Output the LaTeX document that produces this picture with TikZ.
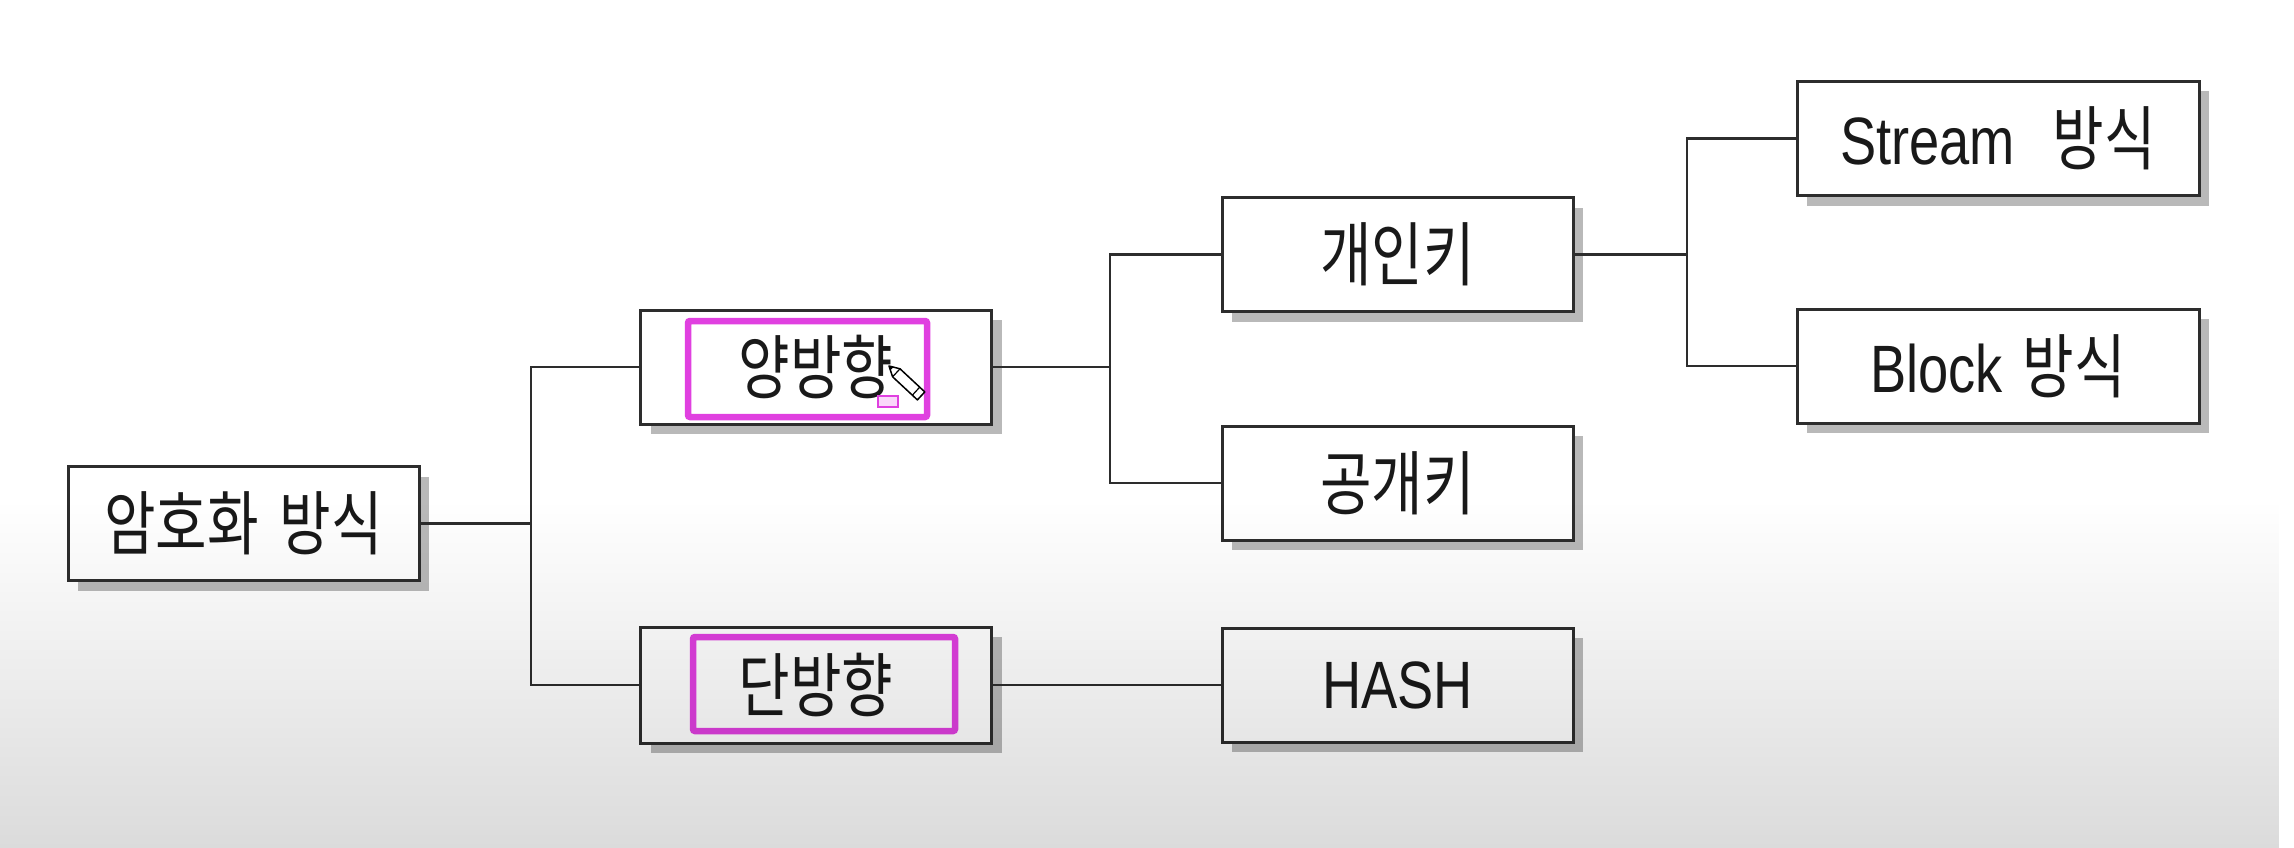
\documentclass[tikz,border=0pt]{standalone}
\usepackage{fontspec}
\setmainfont{Noto Sans CJK KR}[FakeStretch=0.80]
\newfontfamily\latfont{Liberation Sans}[FakeStretch=0.81]
\usetikzlibrary{shadows,fadings}
\definecolor{hlmag}{RGB}{224,64,224}
\definecolor{hlpink}{RGB}{250,215,250}
\definecolor{boxline}{RGB}{45,45,45}
\definecolor{shadowgray}{RGB}{185,185,185}
\newcommand{\lat}[1]{{\latfont\fontsize{67}{72}\selectfont #1}}
\begin{document}
\begin{tikzpicture}[x=1pt,y=-1pt,
  box/.style={draw=boxline, line width=3pt, fill=white, inner sep=0pt,
    minimum width=351pt, minimum height=114pt, text=black!90,
    font=\fontsize{70}{76}\selectfont,
    general shadow={fill=shadowgray, shadow xshift=10pt, shadow yshift=-10pt}},
  widebox/.style={box, minimum width=402pt},
  hl/.style={draw=hlmag, line width=6.5pt, rounded corners=2pt, inner sep=0pt},
  lbl/.style={text=black!90, font=\fontsize{70}{76}\selectfont, inner sep=0pt},
  conn/.style={draw=boxline, line width=2.2pt}]
\useasboundingbox (0,0) rectangle (2294,848);
\fill[white] (0,0) rectangle (2294,848);

% nodes
\node[box] (root)   at (243.5,523.5) {암호화\hspace{8pt} 방식};
\node[box] (two)    at (816,367)     {};
\node[box, minimum height=116pt] (one) at (816,685) {};
\node[box] (priv)   at (1397.5,254.5) {개인키};
\node[box] (pub)    at (1397.5,483)   {공개키};
\node[box] (hash)   at (1397.5,685)   {\lat{HASH}};
\node[widebox] (stream) at (1998,138.5) {\lat{Stream}\hspace{38pt}방식};
\node[widebox] (block)  at (1998,366)   {\lat{Block}\hspace{20pt}방식};

% highlight frames
\node[hl, minimum width=239pt, minimum height=96pt] (hl1) at (807.5,369) {};
\node[hl, minimum width=262pt, minimum height=94pt] (hl2) at (824,684) {};
\node[lbl] (twot) at (816,367) {양방향};
\node[lbl] (onet) at (816,685) {단방향};

% junctions
\coordinate (j1) at (531,523.5);
\coordinate (j2) at (1110,367);
\coordinate (j3) at (1687,254.5);

\draw[conn] (root.east) -- (j1);
\draw[conn] (j1) |- (two.west);
\draw[conn] (j1) |- (one.west);
\draw[conn] (two.east) -- (j2);
\draw[conn] (j2) |- (priv.west);
\draw[conn] (j2) |- (pub.west);
\draw[conn] (one.east) -- (hash.west);
\draw[conn] (priv.east) -- (j3);
\draw[conn] (j3) |- (stream.west);
\draw[conn] (j3) |- (block.west);

% cursor marks
\draw[hlmag, fill=hlpink, line width=1.5pt] (878,396) rectangle (898,407);
\draw[black, fill=white, line width=1.5pt, line join=round]
  (889,366) -- (900,368.8) -- (924.8,391.9) -- (917.4,399.9) -- (892.6,376.8) -- cycle;
\draw[black, line width=1.2pt] (900,368.8) -- (892.6,376.8);
\draw[black, line width=1.2pt] (919.7,387.2) -- (912.3,395.2);
\fill[black] (889,366) -- (893.4,367.1) -- (890.4,370.3) -- cycle;

% bottom shading overlay
\fill[black, opacity=0.14, path fading=north] (0,500) rectangle (2294,848);
\end{tikzpicture}
\end{document}
